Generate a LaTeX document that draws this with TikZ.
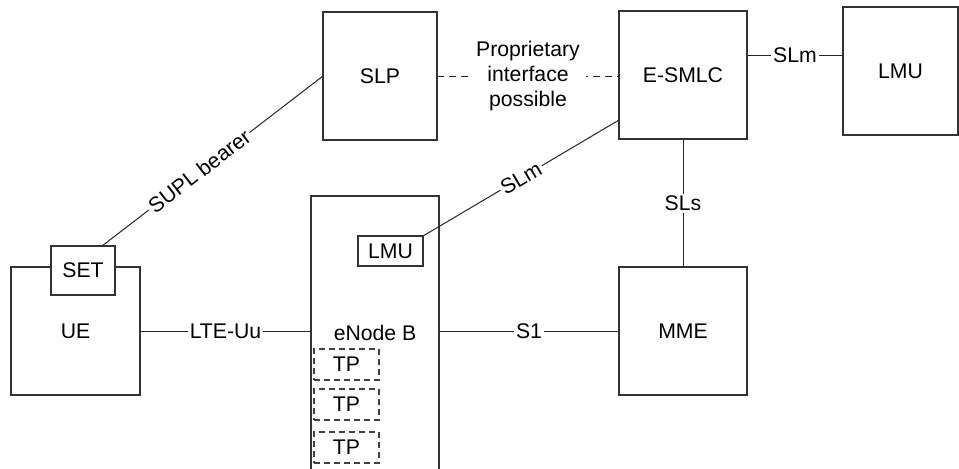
\documentclass[tikz,border=0pt]{standalone}
\usepackage{fontspec}
\setmainfont{Liberation Sans}
\usetikzlibrary{positioning}

\tikzset{
  block/.style={draw=black!80, line width=0.6pt, inner sep=0pt, outer sep=0pt,
    minimum width=64pt, minimum height=64pt},
  tpbox/.style={draw=black!75, line width=0.6pt, dash pattern=on 3pt off 2pt,
    inner sep=0pt, outer sep=0pt, minimum width=32.5pt, minimum height=15.5pt},
  link/.style={draw=black!85, line width=0.5pt},
  lbl/.style={fill=white, inner sep=1pt}
}

\begin{document}
\begin{tikzpicture}[x=0.5pt, y=-0.5pt, on grid, font=\fontsize{10.6}{12.7}\selectfont]
	\useasboundingbox (0,0) rectangle (959,468);
	\node[block, minimum width=57pt] (slp) at (380,76) {SLP};
	\node[block] (esmlc) [right=151.5pt of slp, yshift=0.5pt] {E-SMLC};
	\node[block, minimum width=57.5pt] (lmu_r) [right=108.75pt of esmlc, yshift=2pt] {LMU};
	\node[block] (mme) [below=128pt of esmlc] {MME};
	\node[block, minimum width=64.5pt] (ue) at (75.5,331) {UE};
	\node[block, fill=white, minimum width=32pt, minimum height=24.5pt] (set) at ([xshift=3.75pt, yshift=-1.75pt]ue.north) {SET};
	\node[block, minimum height=137pt] (enb) at (375,333) {eNode B};
	\node[block, minimum width=32.5pt, minimum height=15pt] (lmu_b) at (390.5,251) {LMU};
	\foreach \i/\y in {1/364.5, 2/404.5, 3/447.5}
		\node[tpbox] (tp_\i) at (346.5,\y) {TP};
	\draw[link] ([xshift=9.5pt]set.north) -- node[lbl, sloped, pos=0.44] {SUPL bearer} (slp.west);
	\draw[link] (lmu_b.north east) -- node[lbl, sloped] {SLm} ([yshift=-22.5pt]esmlc.west);
	\draw[link] (ue.east) -- node[lbl] {LTE-Uu} (ue.east -| enb.west);
	\draw[link] (enb.east |- mme.west) -- node[lbl] {S1} (mme.west);
	\draw[link] (esmlc) -- node[lbl] {SLs} (mme);
	\draw[link] ([yshift=10pt]esmlc.east) -- node[lbl] {SLm} ([yshift=10pt]esmlc.east -| lmu_r.west);
	\draw[link, dash pattern=on 3.5pt off 2.5pt] (slp.east) -- node[lbl, align=center, inner sep=3pt] {Proprietary\\interface\\possible} (slp.east -| esmlc.west);
\end{tikzpicture}
\end{document}
